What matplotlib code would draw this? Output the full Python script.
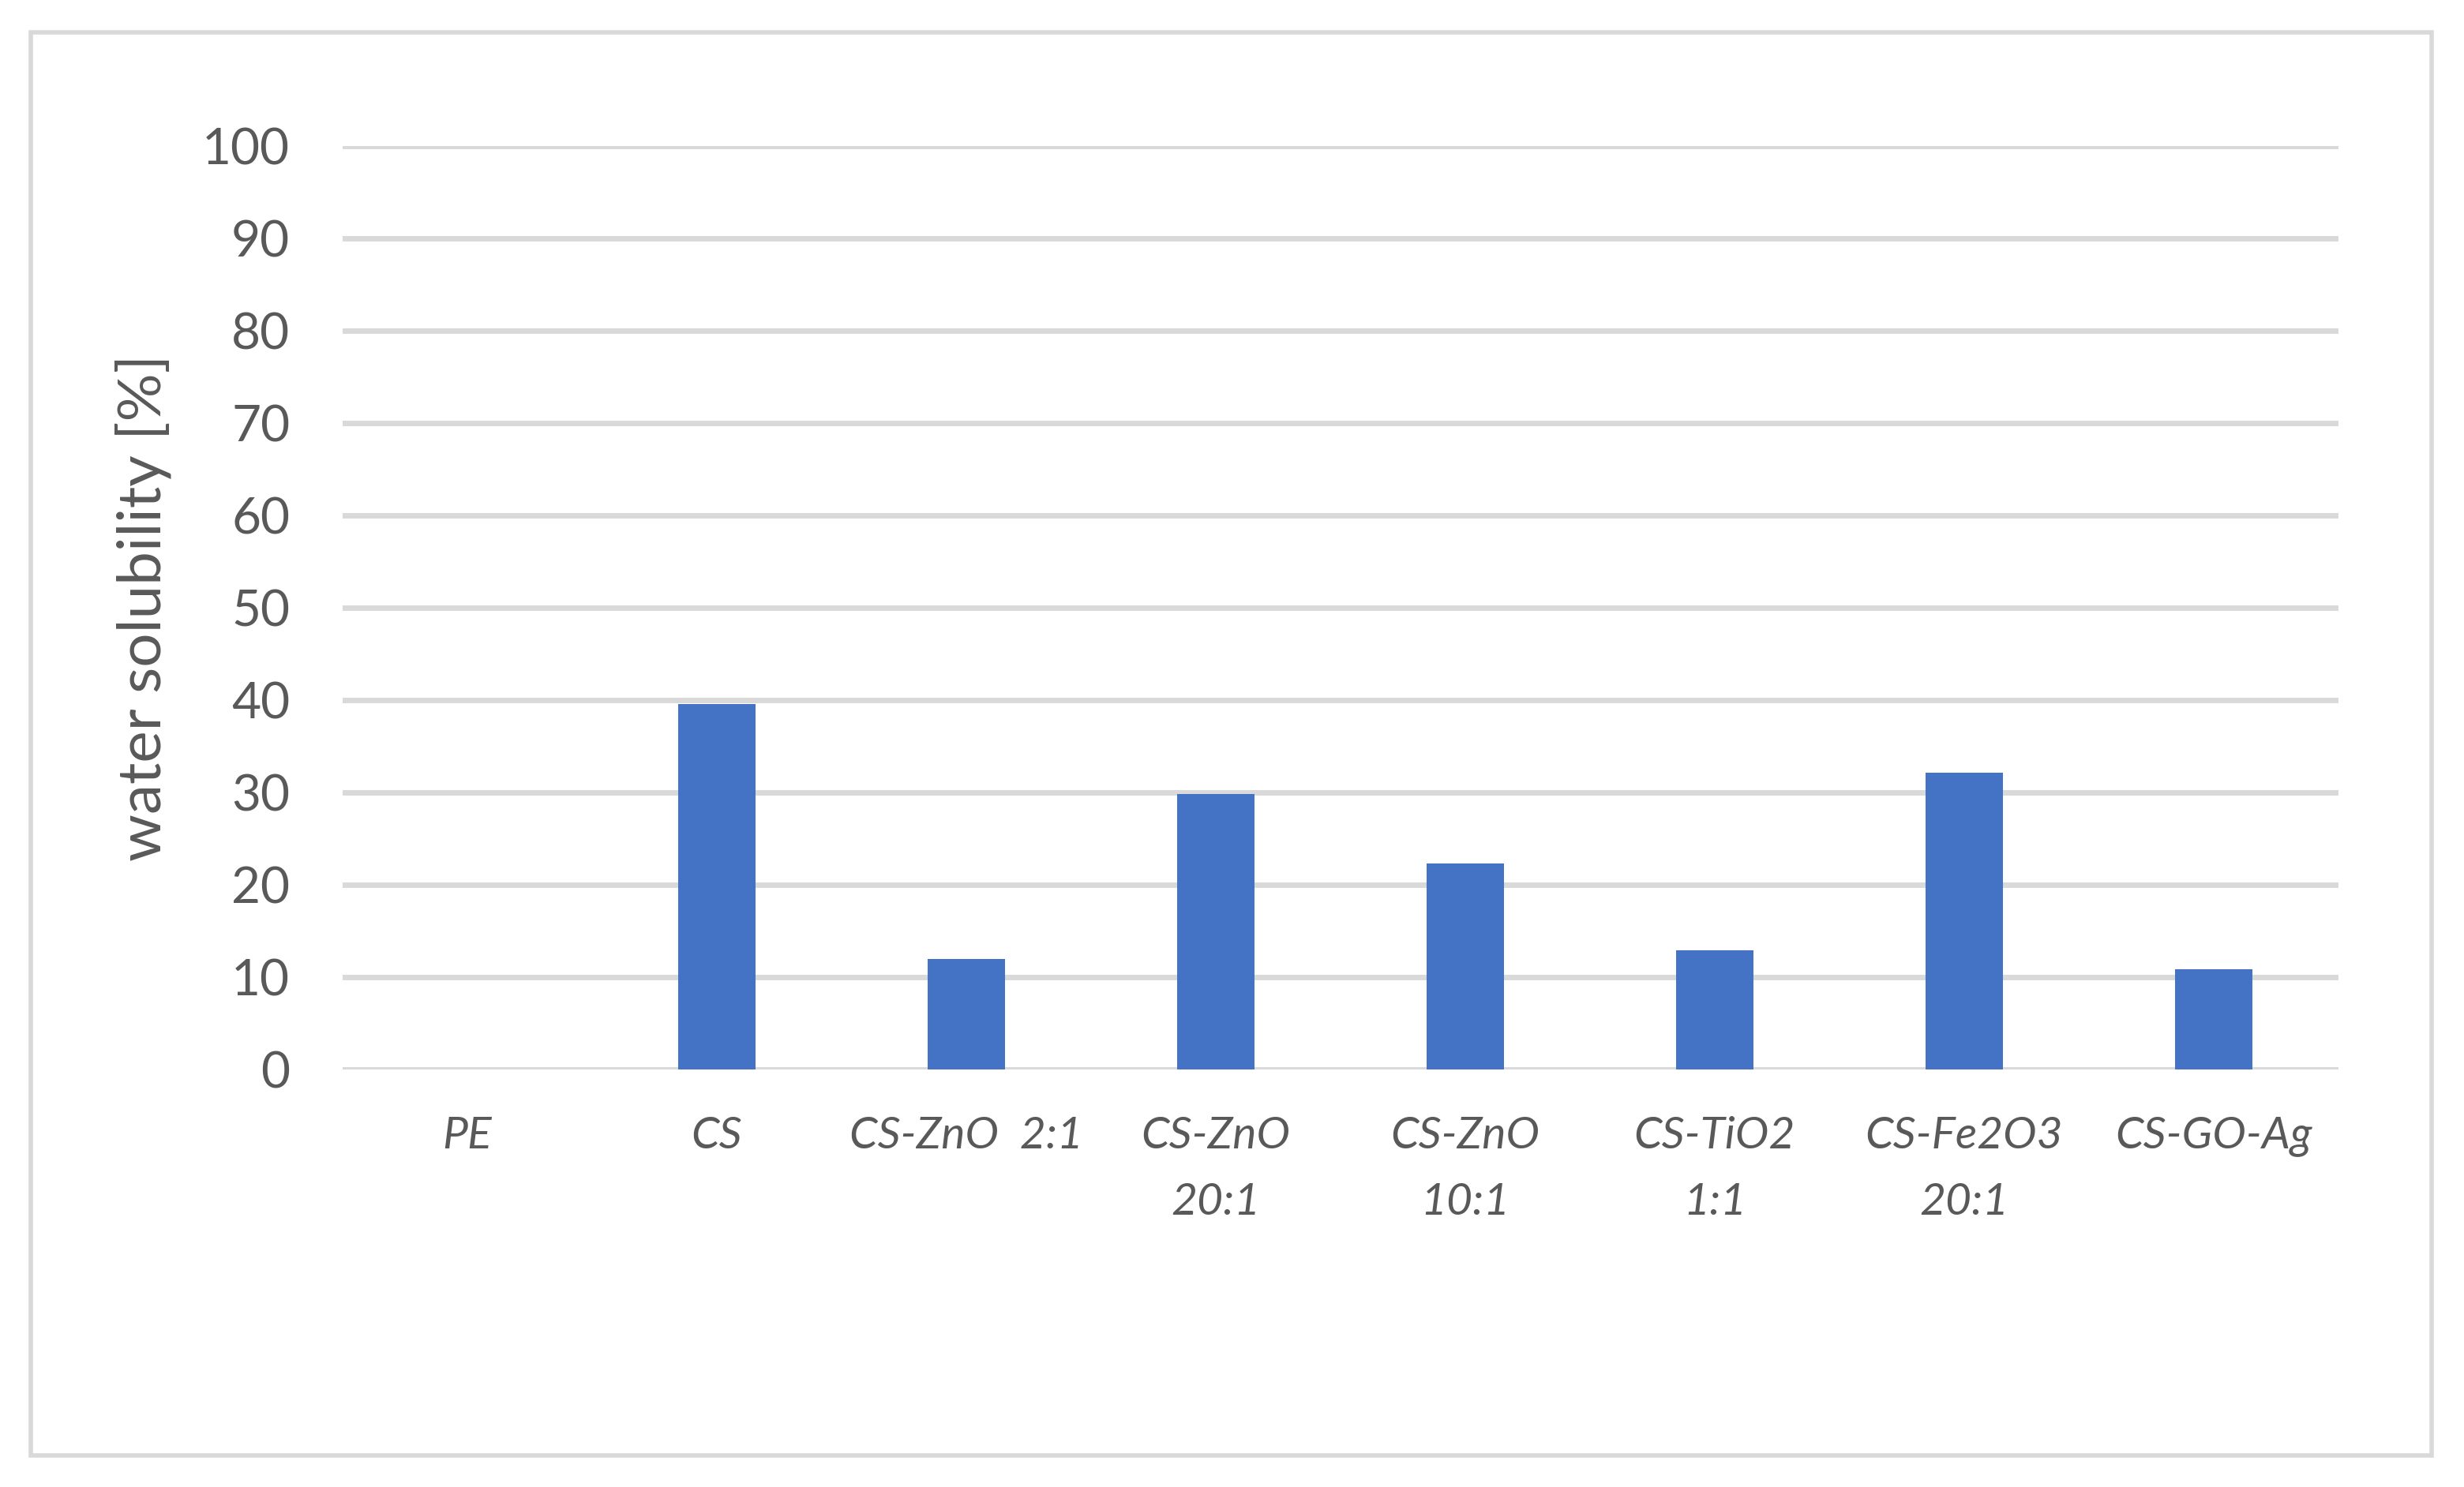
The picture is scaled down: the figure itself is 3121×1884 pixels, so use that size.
import matplotlib.pyplot as plt
from matplotlib.patches import Rectangle

# water solubility of the films
samples = ['PE', 'CS', 'CS-ZnO  2:1', 'CS-ZnO\n20:1', 'CS-ZnO\n10:1',
           'CS-TiO2\n1:1', 'CS-Fe2O3\n20:1', 'CS-GO-Ag']
solubility = [0, 39.5, 11.9, 29.8, 22.3, 12.9, 32.1, 10.8]
y_ticks = [0, 10, 20, 30, 40, 50, 60, 70, 80, 90, 100]

plt.rcParams['font.family'] = ['Lato', 'DejaVu Sans']

fig = plt.figure(figsize=(31.21, 18.84), dpi=100)
ax = fig.add_axes([0.139, 0.281, 0.810, 0.621])

x = range(len(samples))
ax.bar(x, solubility, width=0.31, color='#4472C4', zorder=3)

ax.set_xlim(-0.5, len(samples) - 0.5)
ax.set_ylim(0, 100)
ax.set_yticks(y_ticks)
ax.set_xticks(list(x))
ax.set_xticklabels(samples, style='italic', fontsize=41, color='#595959',
                   linespacing=1.8)
ax.tick_params(axis='y', labelsize=46, labelcolor='#595959', length=0, pad=48)
ax.tick_params(axis='x', length=0, pad=43)

ax.grid(axis='y', color='#d9d9d9', linewidth=5, zorder=0)
ax.set_axisbelow(True)
for s in ax.spines.values():
    s.set_visible(False)

ax.set_ylabel('water solubility [%]', fontsize=55, color='#595959', labelpad=28)

# outer chart border
fig.patches.append(Rectangle((0.0125, 0.021), 0.9745, 0.957, transform=fig.transFigure,
                             fill=False, edgecolor='#d9d9d9', linewidth=4))

fig.savefig('out.png', dpi=100, facecolor='white')
